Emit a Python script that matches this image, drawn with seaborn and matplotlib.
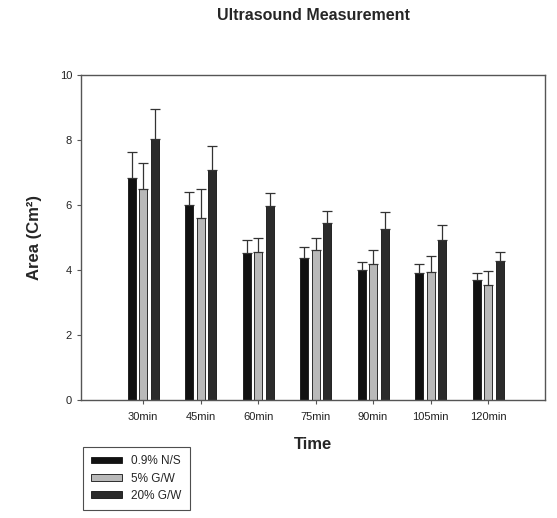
import pandas as pd
import matplotlib
matplotlib.use("Agg")
import matplotlib.pyplot as plt
import seaborn as sns

# Data
times = ["30min", "45min", "60min", "75min", "90min", "105min", "120min"]
groups = ["0.9% N/S", "5% G/W", "20% G/W"]
ns_mean = [6.82, 6.00, 4.53, 4.36, 4.00, 3.90, 3.69]
ns_sd = [0.82, 0.41, 0.39, 0.36, 0.24, 0.27, 0.23]
g5_mean = [6.48, 5.59, 4.56, 4.62, 4.20, 3.95, 3.54]
g5_sd = [0.80, 0.89, 0.43, 0.38, 0.42, 0.48, 0.44]
g20_mean = [8.02, 7.08, 5.97, 5.44, 5.25, 4.92, 4.29]
g20_sd = [0.92, 0.74, 0.41, 0.36, 0.55, 0.46, 0.27]
colors = ["#111111", "#b9b9b9", "#2b2b2b"]

means = [ns_mean, g5_mean, g20_mean]
sds = [ns_sd, g5_sd, g20_sd]

df = pd.DataFrame({
    "time": times * 3,
    "group": [g for g in groups for _ in times],
    "area": ns_mean + g5_mean + g20_mean,
})

sns.set_theme(style="white")
plt.rcParams["font.family"] = ["Liberation Sans", "DejaVu Sans"]

fig = plt.figure(figsize=(5.57, 5.18), dpi=100)
ax = fig.add_axes([81 / 557, 1 - 400 / 518, 464 / 557, 325 / 518])

sns.barplot(data=df, x="time", y="area", hue="group", order=times, hue_order=groups,
            palette=colors, width=0.6, gap=0.3, errorbar=None, edgecolor="#111111",
            linewidth=0.6, ax=ax)

# upward-only error bars
for cont, m, s in zip(ax.containers, means, sds):
    xs = [p.get_x() + p.get_width() / 2 for p in cont]
    ax.errorbar(xs, m, yerr=[[0] * len(s), s], fmt="none", ecolor="#333333",
                elinewidth=0.9, capsize=3.5, capthick=0.9, zorder=1)

ax.set_ylim(0, 10)
ax.set_xlim(-1.08, 6.99)
ax.set_yticks([0, 2, 4, 6, 8, 10])
for sp in ax.spines.values():
    sp.set_color("#555555")
    sp.set_linewidth(1.0)
ax.tick_params(axis="both", direction="out", length=3, width=0.8, color="#555555",
               labelsize=8, labelcolor="#222222", bottom=True, left=True)
ax.tick_params(axis="x", pad=6)

ax.set_xlabel("Time", fontsize=12, fontweight="bold")
ax.set_ylabel("Area (Cm²)", fontsize=12, fontweight="bold")
ax.xaxis.set_label_coords(0.5, -0.115)
ax.yaxis.set_label_coords(-0.085, 0.5)

fig.text(313 / 557, 1 - 15 / 518, "Ultrasound Measurement", ha="center", va="center",
         fontsize=11.5, fontweight="bold")

sns.move_legend(ax, "upper left", bbox_to_anchor=(83 / 557, 1 - 447 / 518),
                bbox_transform=fig.transFigure, title=None, frameon=True, fancybox=False,
                fontsize=8.5, handlelength=2.6, handleheight=0.5, labelspacing=0.45,
                borderpad=0.7, borderaxespad=0)
leg = ax.get_legend()
leg.get_frame().set_edgecolor("#222222")
leg.get_frame().set_linewidth(0.8)

fig.savefig("out.png", dpi=100)
